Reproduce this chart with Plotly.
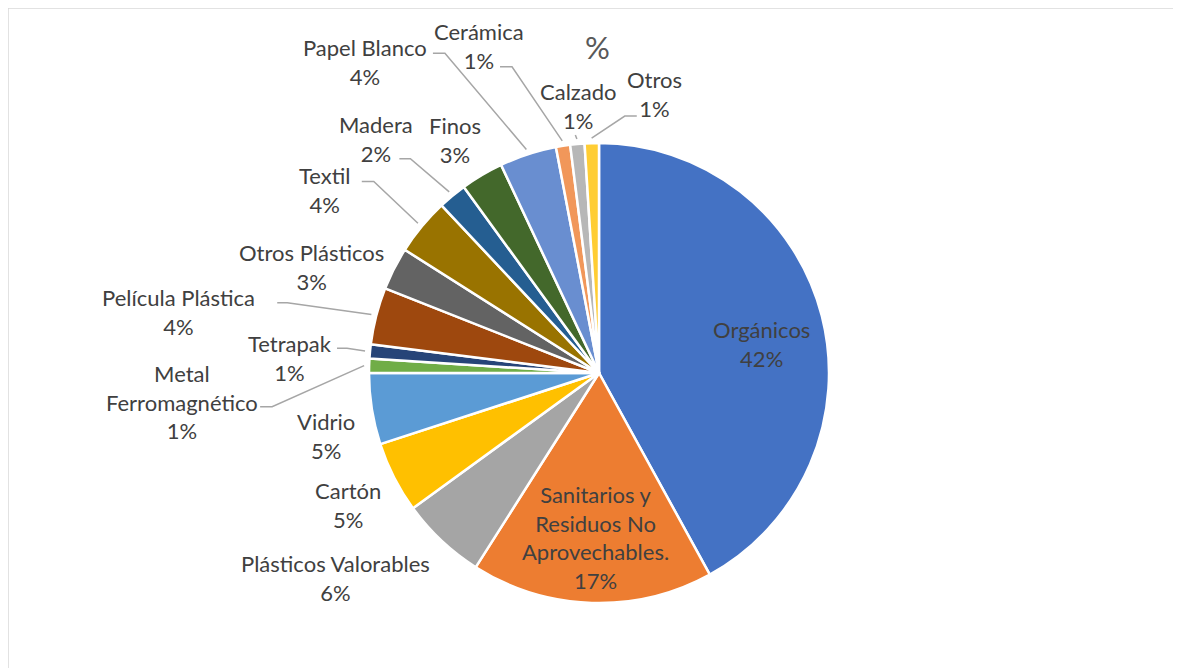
import numpy as np
import plotly.graph_objects as go

# datos (% del total de residuos)
categorias = ["Orgánicos", "Sanitarios y Residuos No Aprovechables.", "Plásticos Valorables",
              "Cartón", "Vidrio", "Metal Ferromagnético", "Tetrapak", "Película Plástica",
              "Otros Plásticos", "Textil", "Madera", "Finos", "Papel Blanco",
              "Cerámica", "Calzado", "Otros"]
valores = [42, 17, 6, 5, 5, 1, 1, 4, 3, 4, 2, 3, 4, 1, 1, 1]
etiquetas = ["Orgánicos", "Sanitarios y<br>Residuos No<br>Aprovechables.", "Plásticos Valorables",
             "Cartón", "Vidrio", "Metal<br>Ferromagnético", "Tetrapak", "Película Plástica",
             "Otros Plásticos", "Textil", "Madera", "Finos", "Papel Blanco",
             "Cerámica", "Calzado", "Otros"]

colores = ["#4472C4", "#ED7D31", "#A5A5A5", "#FFC000", "#5B9BD5", "#70AD47",
           "#264478", "#9E480E", "#636363", "#997300", "#255E91", "#43682B",
           "#698ED0", "#F1975A", "#B7B7B7", "#FFCD33"]

# posicion de cada etiqueta: desplazamiento en px desde el borde de la porción
desplaz = [(-60, 28), (4, -65), (-106, 37), (-46, 28), (-46, 27), (-187, 36), (-80, 7),
           (-198, -4), (-83, -2), (-97, -36), (-76, -57), (-27, -35), (-163, -92),
           (-84, -100), (1, -38), (63, -49)]
# líneas guía: (codo, extremo) en px desde el borde de la porción; None = sin línea
guias = [None, None, None, None, None,
         ((-97, 41), (-109, 41)),
         ((-23, -3), (-33, -3)),
         ((-89, -13), (-99, -13)),
         None,
         ((-48, -45), (-60, -45)),
         ((-42, -37), (-53, -37)),
         None,
         ((-83, -101), (-95, -101)),
         ((-51, -79), (-63, -79)),
         ((-2, -9), (-2, -9)),
         ((33, -27), (45, -27))]

W, H = 1181, 668
OFF = 8  # margen del body de la página
CX, CY, R = 599 - OFF, 373 - OFF, 230  # centro y radio del pastel en px


def px2paper(x, y):
    return x / W, (H - y) / H


fig = go.Figure(go.Pie(
    labels=categorias, values=valores, sort=False, direction="clockwise", rotation=0,
    marker=dict(colors=colores, line=dict(color="white", width=2.5)),
    textinfo="none", hoverinfo="label+percent", showlegend=False,
    domain=dict(x=[(CX - R) / W, (CX + R) / W], y=[(H - CY - R) / H, (H - CY + R) / H]),
))

total = sum(valores)
acum = np.cumsum([0] + valores[:-1])
fuente = dict(family="Lato, Calibri, sans-serif", size=22, color="#404040")
for i, v in enumerate(valores):
    theta = np.deg2rad((acum[i] + v / 2) / total * 360)
    bx, by = CX + R * np.sin(theta), CY - R * np.cos(theta)  # borde de la porción
    dx, dy = desplaz[i]
    x, y = px2paper(bx, by)
    fig.add_annotation(
        x=x, y=y, xref="paper", yref="paper", xshift=dx, yshift=-dy,
        xanchor="center", yanchor="middle",
        text=f"{etiquetas[i]}<br>{round(v / total * 100)}%",
        showarrow=False, font=fuente, align="center",
    )
    if guias[i] is not None:
        (ex, ey), (fx, fy) = guias[i]
        p0 = px2paper(CX + (R + 5) * np.sin(theta), CY - (R + 5) * np.cos(theta))
        p1 = px2paper(bx + ex, by + ey)
        p2 = px2paper(bx + fx, by + fy)
        fig.add_shape(type="path", xref="paper", yref="paper",
                      path=f"M {p0[0]} {p0[1]} L {p1[0]} {p1[1]} L {p2[0]} {p2[1]}",
                      line=dict(color="#A6A6A6", width=1.5))

tx, ty = px2paper(597 - OFF, 47 - OFF)
fig.add_annotation(x=tx, y=ty, xref="paper", yref="paper", text="%",
                   xanchor="center", yanchor="middle", showarrow=False,
                   font=dict(family="Lato, Calibri, sans-serif", size=31, color="#595959"))

fig.add_shape(type="rect", xref="paper", yref="paper", x0=0, y0=-0.05, x1=1.05, y1=1,
              line=dict(color="#D9D9D9", width=1.5))

fig.update_layout(width=W, height=H, margin=dict(l=0, r=0, t=0, b=0),
                  paper_bgcolor="white", plot_bgcolor="white")
fig.write_html("out.html")
